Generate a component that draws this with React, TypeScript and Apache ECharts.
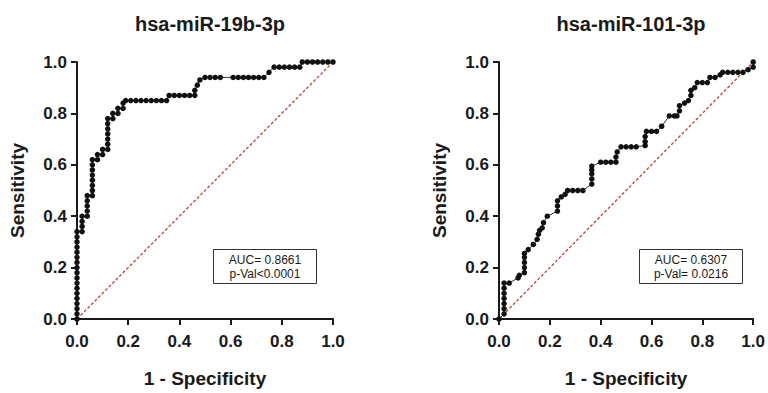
import React, { useEffect, useRef } from "react";
import * as echarts from "echarts";

const titles = ["hsa-miR-19b-3p", "hsa-miR-101-3p"];
const statsLeft = ["AUC= 0.8661", "p-Val<0.0001"];
const statsRight = ["AUC= 0.6307", "p-Val= 0.0216"];
const diagonal: [number, number][] = [[0, 0], [1, 1]];

const roc19b: [number, number][] = [
  [0, 0], [0, 0.02], [0, 0.04], [0, 0.06], [0, 0.08], [0, 0.1], [0, 0.12], [0, 0.14], [0, 0.16], [0, 0.18],
  [0, 0.2], [0, 0.22], [0, 0.24], [0, 0.26], [0, 0.28], [0, 0.3], [0, 0.32], [0, 0.34],
  [0.02, 0.34], [0.02, 0.36], [0.02, 0.38], [0.02, 0.4],
  [0.04, 0.4], [0.04, 0.42], [0.04, 0.44], [0.04, 0.46], [0.04, 0.48],
  [0.06, 0.48], [0.06, 0.5], [0.06, 0.52], [0.06, 0.54], [0.06, 0.56], [0.06, 0.58], [0.06, 0.6], [0.06, 0.62],
  [0.08, 0.62], [0.08, 0.64], [0.1, 0.64], [0.1, 0.66], [0.12, 0.66], [0.12, 0.68], [0.12, 0.7], [0.12, 0.72],
  [0.12, 0.74], [0.12, 0.76], [0.12, 0.78],
  [0.14, 0.78], [0.14, 0.8], [0.16, 0.8], [0.16, 0.82], [0.18, 0.82], [0.18, 0.84], [0.19, 0.85],
  [0.21, 0.85], [0.23, 0.85], [0.25, 0.85], [0.27, 0.85], [0.29, 0.85], [0.31, 0.85], [0.33, 0.85], [0.35, 0.85],
  [0.36, 0.87], [0.38, 0.87], [0.4, 0.87], [0.42, 0.87], [0.44, 0.87], [0.46, 0.87],
  [0.46, 0.89], [0.47, 0.91], [0.48, 0.93], [0.5, 0.94], [0.52, 0.94], [0.54, 0.94], [0.56, 0.94],
  [0.61, 0.94], [0.63, 0.94], [0.65, 0.94], [0.67, 0.94], [0.69, 0.94], [0.71, 0.94], [0.73, 0.94],
  [0.75, 0.96], [0.77, 0.98], [0.79, 0.98], [0.81, 0.98], [0.83, 0.98], [0.85, 0.98], [0.87, 0.98],
  [0.88, 1.0], [0.9, 1.0], [0.92, 1.0], [0.94, 1.0], [0.96, 1.0], [0.98, 1.0], [1.0, 1.0],
];

const roc101: [number, number][] = [
  [0, 0], [0.02, 0.02], [0.02, 0.04], [0.02, 0.06], [0.02, 0.08], [0.02, 0.1], [0.02, 0.12], [0.02, 0.14],
  [0.04, 0.14], [0.075, 0.16], [0.08, 0.17], [0.1, 0.18], [0.1, 0.2], [0.1, 0.22], [0.1, 0.24], [0.1, 0.255],
  [0.115, 0.27], [0.135, 0.29], [0.15, 0.31], [0.155, 0.33], [0.16, 0.345], [0.17, 0.355], [0.175, 0.375],
  [0.19, 0.4], [0.23, 0.42], [0.23, 0.44], [0.23, 0.46], [0.245, 0.475], [0.26, 0.485], [0.27, 0.5],
  [0.29, 0.5], [0.31, 0.5], [0.33, 0.5], [0.365, 0.525], [0.365, 0.545], [0.365, 0.565], [0.365, 0.58],
  [0.365, 0.595], [0.4, 0.61], [0.42, 0.61], [0.44, 0.61], [0.46, 0.61], [0.46, 0.63], [0.465, 0.65],
  [0.48, 0.67], [0.5, 0.67], [0.52, 0.67], [0.54, 0.67], [0.575, 0.675], [0.575, 0.69], [0.575, 0.71],
  [0.58, 0.73], [0.6, 0.73], [0.62, 0.73], [0.64, 0.75], [0.67, 0.79], [0.69, 0.79], [0.7, 0.79],
  [0.71, 0.81], [0.71, 0.83], [0.73, 0.84], [0.745, 0.85], [0.755, 0.87], [0.755, 0.89], [0.77, 0.9],
  [0.78, 0.92], [0.8, 0.92], [0.82, 0.92], [0.83, 0.94], [0.85, 0.94], [0.87, 0.95], [0.88, 0.96],
  [0.9, 0.96], [0.92, 0.96], [0.94, 0.96], [0.96, 0.96], [0.98, 0.97], [1.0, 0.98], [1.0, 1.0],
];

const FONT = "Liberation Sans, Arial, sans-serif";
const INK = "#1a1a1a";
const DASH = "#b8443c";

export default function App() {
  const ref = useRef<HTMLDivElement>(null);
  useEffect(() => {
    if (!ref.current) return;
    const chart = echarts.init(ref.current, undefined, { renderer: "svg" });
    const grids = [
      { left: 77, top: 62, width: 256, height: 259 },
      { left: 499, top: 62, width: 255, height: 259 },
    ];
    const axisCommon = {
      min: 0,
      max: 1,
      interval: 0.2,
      axisLine: { show: true, onZero: false, lineStyle: { color: INK, width: 2 } },
      axisTick: { show: true, length: 6, lineStyle: { color: INK, width: 2 } },
      splitLine: { show: false },
      axisLabel: {
        color: INK,
        fontFamily: FONT,
        fontWeight: "bold" as const,
        fontSize: 17,
        formatter: (v: number) => v.toFixed(1),
        showMaxLabel: true,
        showMinLabel: true,
      },
      nameTextStyle: { color: INK, fontFamily: FONT, fontWeight: "bold" as const, fontSize: 19 },
    };
    const xAxis = [0, 1].map((i) => ({
      ...axisCommon,
      type: "value" as const,
      gridIndex: i,
      name: "1 - Specificity",
      nameLocation: "middle" as const,
      nameGap: 50,
      axisLabel: { ...axisCommon.axisLabel, margin: 14 },
    }));
    const yAxis = [0, 1].map((i) => ({
      ...axisCommon,
      type: "value" as const,
      gridIndex: i,
      name: "Sensitivity",
      nameLocation: "middle" as const,
      nameGap: 50,
      axisLabel: { ...axisCommon.axisLabel, margin: 10 },
    }));
    const rocSeries = (data: [number, number][], idx: number) => ({
      type: "line" as const,
      xAxisIndex: idx,
      yAxisIndex: idx,
      data,
      symbol: "circle",
      symbolSize: 5.5,
      showSymbol: true,
      itemStyle: { color: "#111" },
      lineStyle: { color: "#333", width: 1 },
      z: 3,
    });
    const diagSeries = (idx: number) => ({
      type: "line" as const,
      xAxisIndex: idx,
      yAxisIndex: idx,
      data: diagonal,
      symbol: "none",
      lineStyle: { color: DASH, width: 1.3, type: [3, 2] as number[] },
      z: 2,
    });
    const statBox = (x: number, lines: string[]) => ({
      type: "group" as const,
      left: x,
      top: 249,
      children: [
        {
          type: "rect" as const,
          shape: { x: 0, y: 0, width: 103, height: 34 },
          style: { fill: "#fff", stroke: "#333", lineWidth: 1 },
        },
        {
          type: "text" as const,
          x: 51.5,
          y: 17,
          style: {
            text: lines.join("\n"),
            fill: INK,
            font: `12px ${FONT}`,
            align: "center",
            verticalAlign: "middle",
            lineHeight: 14,
          },
        },
      ],
    });
    const titleStyle = { color: INK, fontFamily: FONT, fontWeight: "bold" as const, fontSize: 20 };
    chart.setOption({
      animation: false,
      backgroundColor: "#fff",
      title: [
        { text: titles[0], left: 205, top: 9, textAlign: "center", textStyle: titleStyle },
        { text: titles[1], left: 626, top: 9, textAlign: "center", textStyle: titleStyle },
      ],
      grid: grids,
      xAxis,
      yAxis,
      series: [diagSeries(0), rocSeries(roc19b, 0), diagSeries(1), rocSeries(roc101, 1)],
      graphic: [statBox(213, statsLeft), statBox(639, statsRight)],
    });
    return () => chart.dispose();
  }, []);
  return (
    <div
      ref={ref}
      style={{ position: "fixed", left: 0, top: 0, width: 768, height: 393, background: "#fff" }}
    />
  );
}
